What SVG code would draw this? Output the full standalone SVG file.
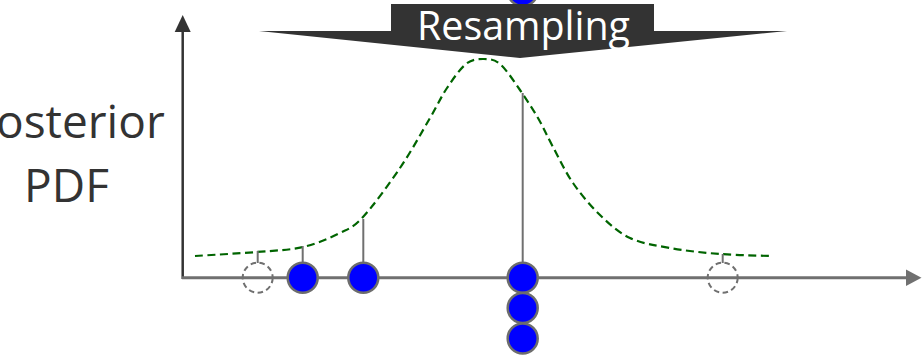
<svg xmlns="http://www.w3.org/2000/svg" width="922" height="361" viewBox="0 0 922 361">
<style>
.lbl{font-family:"Open Sans","Noto Sans","Liberation Sans",sans-serif;fill:#333333}
.stem{stroke:#707070;stroke-width:2;fill:none}
.pb{fill:#0000ff;stroke:#6d6d6d;stroke-width:2.5}
.pd{fill:none;stroke:#707070;stroke-width:2;stroke-dasharray:5.5 3.5}
</style>
<rect width="922" height="361" fill="#ffffff"/>
<g id="axes">
<line x1="182.7" y1="279" x2="182.7" y2="30" stroke="#333333" stroke-width="2.5"/>
<polygon points="182.7,15 174.7,32 190.7,32" fill="#333333"/>
<line x1="182" y1="277.7" x2="908" y2="277.7" stroke="#707070" stroke-width="3"/>
<polygon points="921.5,277.7 906,269.5 906,286" fill="#707070"/>
</g>
<g id="label-pdf">
<text class="lbl" x="66.5" y="138" font-size="46" text-anchor="middle">Posterior</text>
<text class="lbl" x="66.5" y="202" font-size="46" text-anchor="middle">PDF</text>
</g>
<g id="curve">
<path d="M195,256 C205.3,255.3 239,253.5 257,252 C275,250.5 289.2,250.2 303,247 C316.8,243.8 330,238 340,233 C350,228 353,227.8 363,217 C373,206.2 388.8,184.5 400,168 C411.2,151.5 422.2,131.3 430,118 C437.8,104.7 441,97 447,88 C453,79 460,68.8 466,64 C472,59.2 477.3,59 483,59 C488.7,59 493.8,58.8 500,64 C506.2,69.2 513.7,81 520,90 C526.3,99.2 532.5,108.5 538,118 C543.5,127.5 547.2,136.2 553,147 C558.8,157.8 565.2,171.7 573,183 C580.8,194.3 590.5,205.8 600,215 C609.5,224.2 618.3,232.5 630,238 C641.7,243.5 655,245.3 670,248 C685,250.7 703,252.7 720,254 C737,255.3 763.3,255.7 772,256" fill="none" stroke="#006400" stroke-width="2.2" stroke-dasharray="8 4.5"/>
</g>
<g id="connectors">
<line class="stem" x1="257.7" y1="263" x2="257.7" y2="251"/>
<line class="stem" x1="302.7" y1="263" x2="302.7" y2="246"/>
<line class="stem" x1="363.3" y1="263" x2="363.3" y2="219"/>
<line class="stem" x1="522.7" y1="263" x2="522.7" y2="93"/>
<line class="stem" x1="722.7" y1="263" x2="722.7" y2="254"/>
</g>
<g id="particle-top"><circle class="pb" cx="522.7" cy="-9" r="15"/></g>
<g id="banner">
<polygon points="391,4 654,4 654,31 787,31 520,58 259,31 391,31" fill="#333333"/>
<text x="523.5" y="40" font-size="40" text-anchor="middle" font-family="'Open Sans','Noto Sans','Liberation Sans',sans-serif" fill="#ffffff" textLength="213" lengthAdjust="spacingAndGlyphs">Resampling</text>
</g>
<g id="particle-d1"><circle class="pd" cx="257.7" cy="277.7" r="15"/></g>
<g id="particle-1"><circle class="pb" cx="302.7" cy="277.7" r="15"/></g>
<g id="particle-2"><circle class="pb" cx="363.3" cy="277.7" r="15"/></g>
<g id="particle-3"><circle class="pb" cx="522.7" cy="277.7" r="15"/></g>
<g id="particle-4"><circle class="pb" cx="522.7" cy="308" r="15"/></g>
<g id="particle-5"><circle class="pb" cx="522.7" cy="338.5" r="15"/></g>
<g id="particle-d2"><circle class="pd" cx="722.7" cy="277.7" r="15"/></g>
</svg>
